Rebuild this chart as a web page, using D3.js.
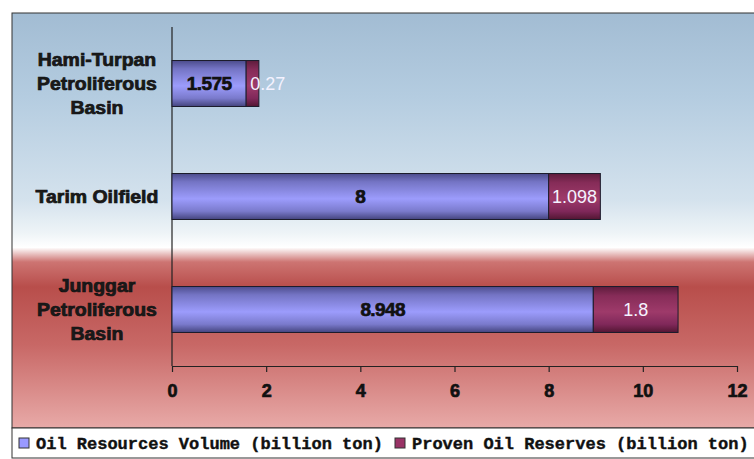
<!DOCTYPE html>
<html>
<head>
<meta charset="utf-8">
<script src="https://cdn.jsdelivr.net/npm/d3@7"></script>
<style>
  html, body { margin: 0; padding: 0; background: #ffffff; }
  svg { display: block; }
</style>
</head>
<body>
<svg id="chart" width="754" height="459"></svg>
<script>
// Basins, listed top to bottom
const categories = [
  ["Hami-Turpan", "Petroliferous", "Basin"],
  ["Tarim Oilfield"],
  ["Junggar", "Petroliferous", "Basin"]
];
const categoryKeys = ["Hami-Turpan Petroliferous Basin", "Tarim Oilfield", "Junggar Petroliferous Basin"];
const seriesNames = ["Oil Resources Volume (billion ton)", "Proven Oil Reserves (billion ton)"];
const resourcesVolume = [1.575, 8, 8.948];
const provenReserves = [0.27, 1.098, 1.8];
const xTicks = [0, 2, 4, 6, 8, 10, 12];

const svg = d3.select("#chart");

// frame of the chart area
const frame = { left: 12, top: 13, right: 760, bottom: 428 };
const plot = { left: 172, right: 737, top: 27, bottom: 366 };

const defs = svg.append("defs");

// background wash: light blue at the top, white band, red lower part
const bg = defs.append("linearGradient").attr("id", "bgGrad")
  .attr("x1", 0).attr("y1", 0).attr("x2", 0).attr("y2", 1);
[
  [0.00, "#a2bcd3"], [0.20, "#b4cce0"], [0.45, "#d4e2ed"], [0.53, "#eef4f7"],
  [0.565, "#ffffff"], [0.60, "#cd7472"], [0.66, "#b84e4b"], [0.80, "#c86866"],
  [1.00, "#e8aaa8"]
].forEach(([o, c]) => bg.append("stop").attr("offset", o).attr("stop-color", c));

// cylinder-like shading for the two series
function barGradient(id, stops) {
  const g = defs.append("linearGradient").attr("id", id)
    .attr("x1", 0).attr("y1", 0).attr("x2", 0).attr("y2", 1);
  stops.forEach(([o, c]) => g.append("stop").attr("offset", o).attr("stop-color", c));
}
barGradient("s1Grad", [[0, "#4c4c8c"], [0.18, "#7474c4"], [0.55, "#9c9cfc"], [0.82, "#7a7acc"], [1, "#44447e"]]);
barGradient("s2Grad", [[0, "#5e1c3c"], [0.2, "#862c58"], [0.55, "#9e3a6a"], [0.82, "#80285a"], [1, "#521632"]]);

// chart area
svg.append("rect")
  .attr("x", frame.left).attr("y", frame.top)
  .attr("width", frame.right - frame.left).attr("height", frame.bottom - frame.top)
  .attr("fill", "url(#bgGrad)").attr("stroke", "#333").attr("stroke-width", 1);

// legend strip
svg.append("rect")
  .attr("x", frame.left).attr("y", frame.bottom)
  .attr("width", frame.right - frame.left).attr("height", 30)
  .attr("fill", "#ffffff").attr("stroke", "#333").attr("stroke-width", 1);

const x = d3.scaleLinear().domain([0, 12]).range([plot.left, plot.right]);
const y = d3.scaleBand().domain(categoryKeys).range([plot.top, plot.bottom])
  .paddingInner(0.593).paddingOuter(0.2965);

const heavy = sel => sel
  .attr("font-family", "'Liberation Sans', Arial, sans-serif")
  .attr("font-weight", "bold")
  .attr("stroke", "#111").attr("stroke-width", 0.7).attr("paint-order", "fill");

// x axis
const xAxis = svg.append("g")
  .attr("transform", `translate(0,${plot.bottom})`)
  .call(d3.axisBottom(x).tickValues(xTicks).tickFormat(d3.format("d")).tickSizeInner(6).tickSizeOuter(0).tickPadding(12));
xAxis.select(".domain").attr("stroke", "#222").attr("stroke-width", 1.2);
xAxis.selectAll(".tick line").attr("stroke", "#222").attr("stroke-width", 1.2);
xAxis.selectAll(".tick text").attr("fill", "#111").attr("font-size", 18).call(heavy);

// y axis line
svg.append("line")
  .attr("x1", plot.left).attr("x2", plot.left)
  .attr("y1", plot.top).attr("y2", plot.bottom)
  .attr("stroke", "#222").attr("stroke-width", 1.2);

// stacked bars
const rows = categoryKeys.map((k, i) => ({ key: k, lines: categories[i], a: resourcesVolume[i], b: provenReserves[i] }));

const bars = svg.append("g");
rows.forEach(r => {
  const y0 = y(r.key), bh = y.bandwidth();
  bars.append("rect")
    .attr("x", x(0)).attr("y", y0).attr("width", x(r.a) - x(0)).attr("height", bh)
    .attr("fill", "url(#s1Grad)").attr("stroke", "#1c1c2c").attr("stroke-width", 1);
  bars.append("rect")
    .attr("x", x(r.a)).attr("y", y0).attr("width", x(r.a + r.b) - x(r.a)).attr("height", bh)
    .attr("fill", "url(#s2Grad)").attr("stroke", "#1c1c2c").attr("stroke-width", 1);

  // value labels
  bars.append("text")
    .attr("x", (x(0) + x(r.a)) / 2).attr("y", y0 + bh / 2).attr("dy", "0.36em")
    .attr("text-anchor", "middle")
    .attr("font-size", 19).attr("fill", "#111")
    .attr("letter-spacing", -0.6)
    .call(heavy)
    .text(r.a);

  const segW = x(r.a + r.b) - x(r.a);
  const lbl = bars.append("text")
    .attr("y", y0 + bh / 2).attr("dy", "0.36em")
    .attr("font-family", "'Liberation Sans', Arial, sans-serif")
    .attr("font-size", 18).attr("fill", "#f4f2ff")
    .text(r.b);
  const tw = lbl.node().getComputedTextLength();
  if (tw + 6 > segW) {
    lbl.attr("x", x(r.a) + 4).attr("text-anchor", "start");
  } else {
    lbl.attr("x", (x(r.a) + x(r.a + r.b)) / 2).attr("text-anchor", "middle");
  }
});

// category labels, stretched slightly wider like the heavy original face
const catG = svg.append("g");
rows.forEach(r => {
  const cy = y(r.key) + y.bandwidth() / 2;
  const n = r.lines.length, lh = 24;
  r.lines.forEach((ln, j) => {
    const t = catG.append("text")
      .attr("x", 97).attr("y", cy + (j - (n - 1) / 2) * lh).attr("dy", "0.36em")
      .attr("text-anchor", "middle")
      .attr("font-size", 18).attr("fill", "#1a1a1a")
      .call(heavy)
      .text(ln);
    const w = t.node().getComputedTextLength();
    t.attr("textLength", w * 1.08).attr("lengthAdjust", "spacingAndGlyphs");
  });
});

// legend
const legendItems = [
  { name: seriesNames[0], color: "#9999ff", sx: 19 },
  { name: seriesNames[1], color: "#993366", sx: 395 }
];
const lg = svg.append("g");
legendItems.forEach(it => {
  lg.append("rect")
    .attr("x", it.sx).attr("y", 438).attr("width", 10).attr("height", 10)
    .attr("fill", it.color).attr("stroke", "#333").attr("stroke-width", 1);
  lg.append("text")
    .attr("x", it.sx + 17).attr("y", 449)
    .attr("font-family", "'Liberation Mono', 'Courier New', monospace")
    .attr("font-weight", "bold").attr("font-size", 17).attr("fill", "#111")
    .attr("stroke", "#111").attr("stroke-width", 0.4)
    .text(it.name);
});
</script>
</body>
</html>
